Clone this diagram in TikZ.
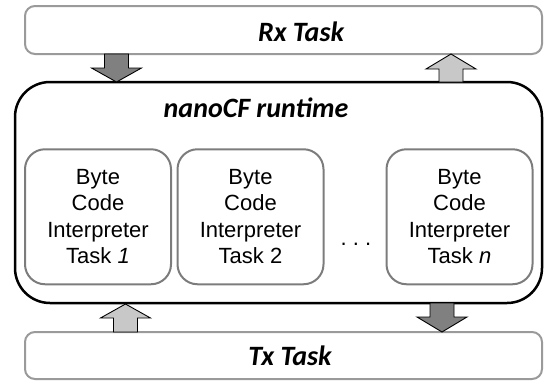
\documentclass[tikz,border=0pt]{standalone}
\usepackage{fontspec}
\setmainfont{Liberation Sans}
\newfontfamily\calfont{Carlito}
\definecolor{barline}{HTML}{9A9A9A}
\definecolor{boxline}{HTML}{7C7C7C}
\definecolor{darkarr}{HTML}{808080}
\definecolor{lightarr}{HTML}{C8C8C8}
\newcommand\blockarrow[5]{%
  \draw[blockarr, fill=#1] (#2-12,#3) -- (#2+12,#3) -- (#2+12,#4) -- (#2+25,#4)
    -- (#2,#5) -- (#2-25,#4) -- (#2-12,#4) -- cycle;}
\begin{document}
\begin{tikzpicture}[x=1pt,y=-1pt,
  taskbar/.style={draw=barline, line width=2pt, rounded corners=10pt,
    minimum width=517pt, minimum height=48pt, inner sep=0pt},
  runtimebox/.style={draw=black, line width=2.5pt, rounded corners=35pt,
    minimum width=527pt, minimum height=221pt, inner sep=0pt},
  interpbox/.style={draw=boxline, line width=2pt, rounded corners=20pt,
    minimum width=146pt, minimum height=135pt, inner sep=0pt, align=center,
    font=\fontsize{22}{26.5}\selectfont},
  titletext/.style={anchor=base, inner sep=0pt,
    font=\calfont\bfseries\itshape\fontsize{28}{32}\selectfont},
  blockarr/.style={draw=black, line width=0.9pt, line join=miter}]
\useasboundingbox (0,0) rectangle (545,381);
\node[taskbar] (rx) at (283.5,30) {};
\node[taskbar, minimum height=47pt] (tx) at (283.5,355.5) {};
\node[runtimebox] (rt) at (278.5,192.5) {};
\node[titletext] (rxlabel) at (301,41) {Rx Task};
\node[titletext] (txlabel) at (290,365) {Tx Task};
\node[titletext] (rtlabel) at (256,117) {nanoCF runtime};
\node[interpbox] (t1) at (98,216.75) {Byte\\Code\\Interpreter\\Task \textit{1}};
\node[interpbox] (t2) at (250.5,216.75) {Byte\\Code\\Interpreter\\Task 2};
\node[interpbox] (tn) at (459.5,216.75) {Byte\\Code\\Interpreter\\Task \textit{n}};
\node[anchor=base, inner sep=0pt, font=\fontsize{22}{26.5}\selectfont] (dots) at (356,245) {.\ .\ .};
\blockarrow{darkarr}{116.5}{54}{68}{82}
\blockarrow{lightarr}{451}{82}{69}{54}
\blockarrow{lightarr}{125.5}{332}{318}{304}
\blockarrow{darkarr}{442}{303}{317}{332}
\end{tikzpicture}
\end{document}
